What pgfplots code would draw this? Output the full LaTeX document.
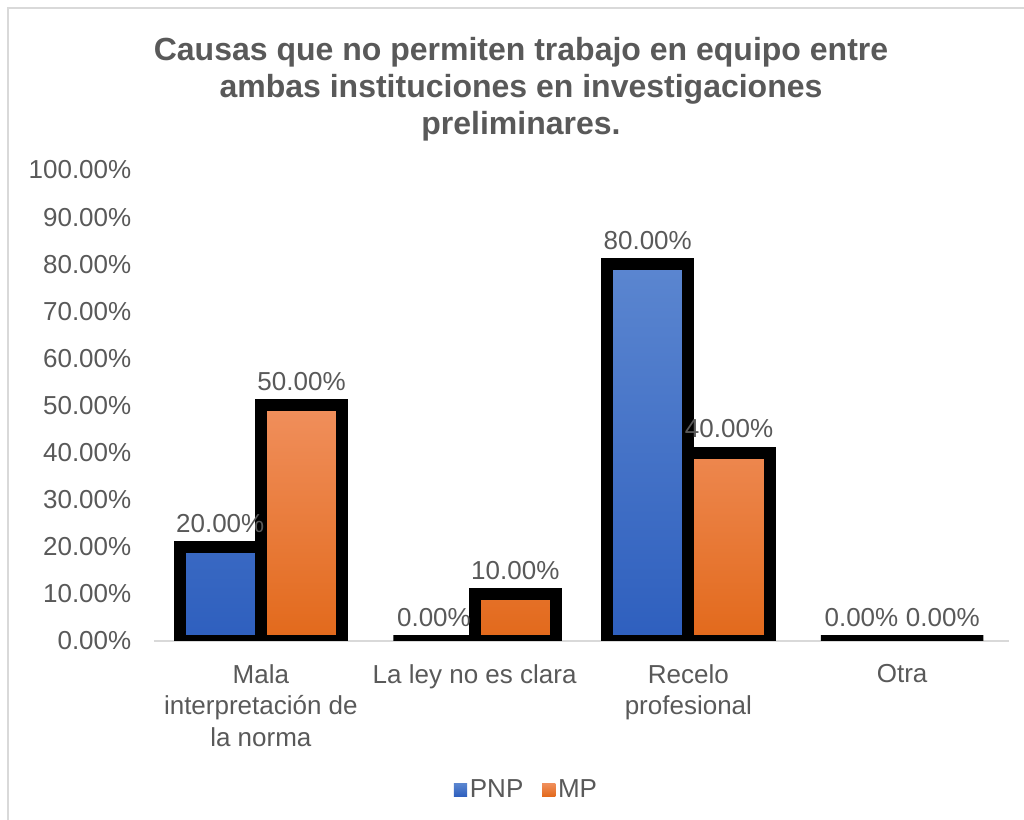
\documentclass[border=0pt]{standalone}
\usepackage{pgfplots}
\pgfplotsset{compat=1.18}
\usepackage{fontspec}
\setmainfont{Liberation Sans}
\definecolor{txt}{HTML}{595959}
\definecolor{axgray}{HTML}{D9D9D9}
\definecolor{bluetop}{HTML}{5B86D0}
\definecolor{bluebot}{HTML}{2E5FBE}
\definecolor{orgtop}{HTML}{F08F5C}
\definecolor{orgbot}{HTML}{E2691B}
\pgfplotstableread{
x pnp mp
0 20 50
1 0 10
2 80 40
3 0 0
}\datatable
\begin{document}
\begin{tikzpicture}[x=0.75pt,y=0.75pt]
\useasboundingbox (0,0) rectangle (1024,820);
\draw[axgray, line width=1.5pt] (8,0) -- (8,812) -- (1024,812);
\node[text=txt, font=\fontsize{24}{27.75}\selectfont\bfseries, align=center] at (521,731)
  {Causas que no permiten trabajo en equipo entre\\ambas instituciones en investigaciones\\preliminares.};
\begin{axis}[
  at={(115.5pt,134.25pt)}, anchor=south west,
  scale only axis, width=641.25pt, height=353.25pt,
  ybar=0pt, bar width=61pt,
  xmin=-0.5, xmax=3.5, ymin=0, ymax=100,
  xtick={0,1,2,3},
  xticklabels={{Mala\\interpretación de\\la norma},{La ley no es clara},{Recelo\\profesional},{Otra}},
  ytick={0,10,...,100},
  yticklabel={\pgfmathprintnumber[fixed,fixed zerofill,precision=2]{\tick}\%},
  /pgf/number format/assume math mode=true,
  axis lines*=left,
  y axis line style={draw=none},
  x axis line style={draw=axgray, line width=1.5pt},
  major tick style={draw=none},
  ticklabel style={text=txt, font=\fontsize{19.5}{23.6}\selectfont},
  xticklabel style={align=center, yshift=-9.75pt},
  yticklabel style={xshift=-13.5pt},
  nodes near coords={\pgfmathprintnumber[fixed,fixed zerofill,precision=2]{\pgfplotspointmeta}\%},
  nodes near coords style={anchor=base, yshift=11pt, text=txt, font=\fontsize{19.5}{23.6}\selectfont, /pgf/number format/assume math mode=true},
  legend style={at={(0.436,-0.316)}, anchor=center, draw=none, legend columns=2,
    font=\fontsize{19.5}{23.6}\selectfont, text=txt,
    /tikz/every even column/.append style={column sep=12pt},
    /tikz/every odd column/.append style={column sep=0pt}},
]
\addplot[draw=black, line width=9pt, top color=bluetop, bottom color=bluebot,
  legend image code/.code={\path[draw=none, line width=0pt, top color=bluetop, bottom color=bluebot] (0pt,-5pt) rectangle (10pt,5pt);}]
  table[x=x, y=pnp] {\datatable};
\addlegendentry{PNP}
\addplot[draw=black, line width=9pt, top color=orgtop, bottom color=orgbot,
  legend image code/.code={\path[draw=none, line width=0pt, top color=orgtop, bottom color=orgbot] (0pt,-5pt) rectangle (10pt,5pt);}]
  table[x=x, y=mp] {\datatable};
\addlegendentry{MP}
\end{axis}
\end{tikzpicture}
\end{document}
